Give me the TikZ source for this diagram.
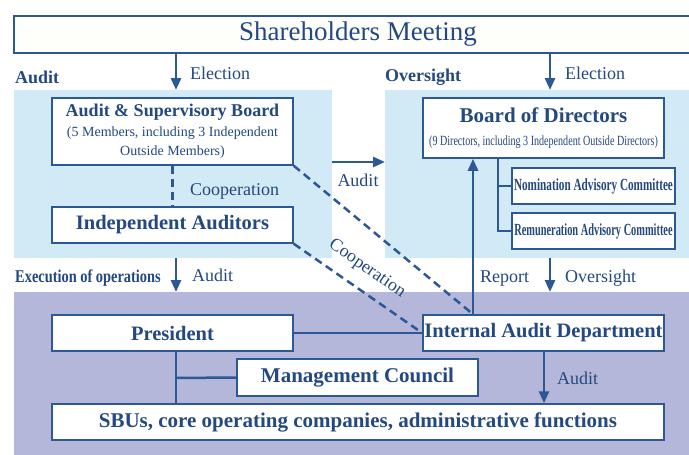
\documentclass[tikz,border=0pt]{standalone}
\usepackage{fontspec}
\usepackage{graphicx}
\setmainfont{Liberation Serif}
\usetikzlibrary{arrows.meta}
\definecolor{bcol}{RGB}{44,88,150}
\definecolor{tcol}{RGB}{36,72,128}
\definecolor{lbcol}{RGB}{210,233,246}
\definecolor{pcol}{RGB}{180,182,218}
\definecolor{wcol}{RGB}{254,254,251}
\newcommand{\cond}[2]{\scalebox{#1}[1]{#2}}
\tikzset{every picture/.style={x=1pt,y=-1pt}}
\tikzset{box/.style={draw=bcol,fill=white,line width=1.5pt,inner sep=0pt,text=tcol,align=center,font=\bfseries\fontsize{20.5}{24}\selectfont}}
\tikzset{arr/.style={bcol,line width=2.7pt,-{Triangle[length=12pt,width=10pt]}}}
\tikzset{link/.style={bcol,line width=2.5pt}}
\tikzset{coop/.style={bcol,line width=2.5pt,dash pattern=on 8pt off 5pt}}
\tikzset{annot/.style={text=tcol,inner sep=0pt,font=\fontsize{18}{20}\selectfont}}
\tikzset{sect/.style={text=tcol,inner sep=0pt,font=\bfseries\fontsize{18}{20}\selectfont}}

\begin{document}
\begin{tikzpicture}
\useasboundingbox (0,0) rectangle (689,455);
\clip (0,0) rectangle (689,455);

% background areas
\fill [lbcol] (14,90) rectangle (332,258);
\fill [lbcol] (385,90) rectangle (689,258);
\fill [pcol] (14,292) rectangle (689,455);

\node [box,fill=wcol,minimum width=688,minimum height=37,font=\fontsize{27}{30}\selectfont] (sm) at (358,34.5) {Shareholders Meeting};

\node [box,minimum width=241,minimum height=67] (asb) at (172.5,131.5)
  {{\fontsize{18}{22}\selectfont Audit \& Supervisory Board}\\[-4pt]
   {\mdseries\fontsize{14}{17}\selectfont (5 Members, including 3 Independent}\\[-5pt]
   {\mdseries\fontsize{14}{17}\selectfont Outside Members)}};
\node [box,minimum width=241,minimum height=36] (ia) at (172.5,225) {Independent Auditors};

\node [box,minimum width=241,minimum height=60] (bod) at (543.5,128)
  {{\fontsize{21}{24}\selectfont Board of Directors}\\[-1pt]
   {\mdseries\fontsize{14}{17}\selectfont\cond{0.72}{(9 Directors, including 3 Independent Outside Directors)}}};
\node [box,minimum width=163,minimum height=36,font=\bfseries\fontsize{17}{20}\selectfont] (nac) at (593.5,186) {\cond{0.66}{Nomination Advisory Committee}};
\node [box,minimum width=163,minimum height=36,font=\bfseries\fontsize{17}{20}\selectfont] (rac) at (593.5,231) {\cond{0.61}{Remuneration Advisory Committee}};

\node [box,minimum width=241,minimum height=36] (pres) at (172.5,333) {President};
\node [box,minimum width=241,minimum height=36] (iad) at (543.5,333) {Internal Audit Department};
\node [box,minimum width=241,minimum height=37,font=\bfseries\fontsize{21}{24}\selectfont] (mc) at (357.5,377.5) {Management Council};
\node [box,minimum width=612,minimum height=36,font=\bfseries\fontsize{21}{24}\selectfont] (sbu) at (358,422) {SBUs, core operating companies, administrative functions};

\coordinate (el1) at (176,90);
\coordinate (el2) at (550,90);
\coordinate (au1) at (332,162);
\coordinate (au2) at (385,162);
\coordinate (ex1) at (176,258);
\coordinate (ex2) at (176,292);
\coordinate (ov1) at (550,258);
\coordinate (ov2) at (550,292);
\coordinate (rp) at (473,0);
\coordinate (tr) at (498,0);
\coordinate (br) at (176,378);
\coordinate (ad) at (544,0);

\draw [arr] (sm.south -| el1) -- (el1);
\draw [arr] (sm.south -| el2) -- (el2);
\draw [coop] (asb.south) -- (ia.north);
\draw [arr] (au1) -- (au2);
\draw [arr] (iad.north -| rp) -- (bod.south -| rp);
\draw [coop] (asb.south east) -- (iad.north -| rp);
\draw [coop] (ia.south east) -- (iad.west);
\draw [link,line width=2pt] (bod.south -| tr) |- (rac.west);
\draw [link,line width=2pt] (tr |- nac.west) -- (nac.west);
\draw [arr] (ex1) -- (ex2);
\draw [arr] (ov1) -- (ov2);
\draw [link] (pres.east) -- (iad.west);
\draw [link] (pres.south -| br) -- (sbu.north -| br);
\draw [link] (br) -- (mc.west);
\draw [arr] (iad.south -| ad) -- (sbu.north -| ad);

\node [sect,anchor=west] at (15,77) {Audit};
\node [sect,anchor=west] at (385,77) {Oversight};
\node [sect,anchor=west] at (15,278) {\cond{0.8}{Execution of operations}};
\node [annot,anchor=west] at (190,73) {Election};
\node [annot,anchor=west] at (565,73) {Election};
\node [annot,anchor=west] at (190,191) {Cooperation};
\node [annot] at (358,180) {Audit};
\node [annot,rotate=-35] at (367,269) {Cooperation};
\node [annot,anchor=west] at (192,275) {Audit};
\node [annot,anchor=west] at (480,279) {Report};
\node [annot,anchor=west] at (565,278) {Oversight};
\node [annot,anchor=west] at (557,378) {Audit};
\end{tikzpicture}
\end{document}
